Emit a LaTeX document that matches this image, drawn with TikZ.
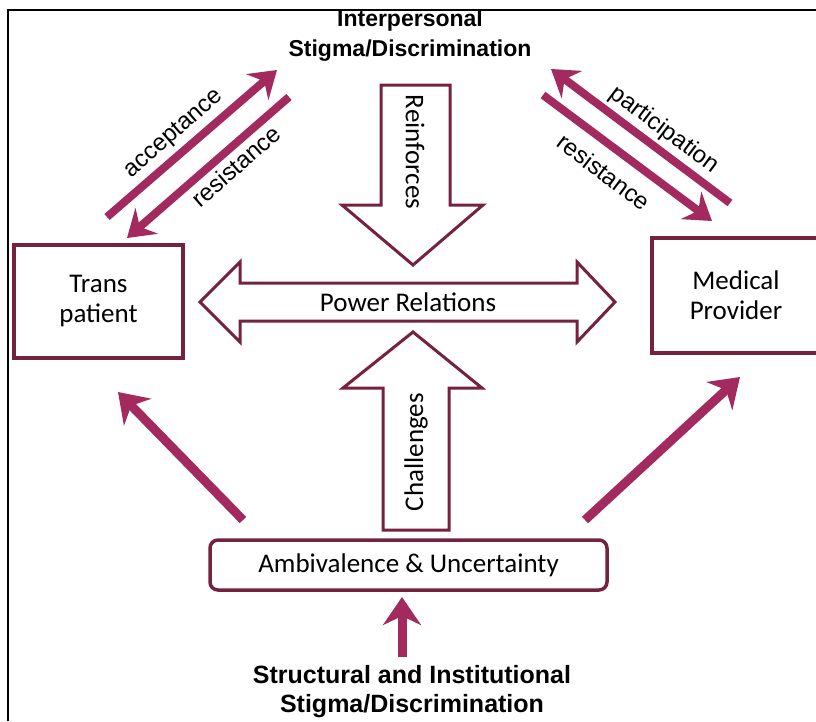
\documentclass[tikz,border=0pt]{standalone}
\usepackage{fontspec}
\setmainfont{Carlito}
\newfontfamily\arialfont{Liberation Sans}
\usetikzlibrary{arrows.meta}
\definecolor{boxred}{RGB}{116,34,64}
\definecolor{arrred}{RGB}{163,42,94}

\begin{document}
\begin{tikzpicture}[x=1pt,y=-1pt,line join=miter,
  box/.style={draw=boxred,line width=3.5pt,fill=white,align=center,font=\fontsize{27}{30}\selectfont},
  hollow/.style={draw=boxred,line width=3pt,fill=white},
  inner/.style={font=\fontsize{27}{30}\selectfont},
  bigarrow/.style={draw=arrred,line width=9pt,-{Stealth[length=28pt,width=38pt,inset=9pt]}},
  pairarrow/.style={draw=arrred,line width=8pt,-{Stealth[length=26pt,width=34pt,inset=9pt]}},
  title/.style={font=\arialfont\bfseries\fontsize{23}{30}\selectfont,align=center},
  side/.style={font=\arialfont\fontsize{24}{26}\selectfont,inner sep=1pt}]

\useasboundingbox (0,0) rectangle (816,721);
\fill[white] (0,0) rectangle (816,721);

% outer frame
\draw[line width=2.5pt] (8,721) -- (8,10) -- (816,10);

% headings
\node[title] (inter) at (410,36) {Interpersonal\\Stigma/Discrimination};
\node[title,font=\arialfont\bfseries\fontsize{25}{29}\selectfont] (struct) at (412,692) {Structural and Institutional\\Stigma/Discrimination};

% boxes
\node[box,minimum width=169pt,minimum height=113pt] (trans) at (98.5,301.5) {Trans\\patient};
\node[box,minimum width=168pt,minimum height=115pt] (medic) at (736,295.5) {Medical\\Provider};
\node[box,rounded corners=8pt,minimum width=397pt,minimum height=50pt] (ambi) at (408.5,565) {Ambivalence \& Uncertainty};

% hollow arrows
\draw[hollow] (200,302) -- (240,262) -- (240,283) -- (577,283) -- (577,262) -- (615,302)
  -- (577,342) -- (577,321) -- (240,321) -- (240,342) -- cycle;
\node[inner] (power) at (408,302) {Power Relations};

\draw[hollow] (381,85) -- (450,85) -- (450,205) -- (483,205) -- (413,265) -- (342,205) -- (381,205) -- cycle;
\node[inner,rotate=-90] (reinf) at (415,152) {Reinforces};

\draw[hollow] (383,530) -- (383,388) -- (343,388) -- (413,332) -- (482,388) -- (449,388) -- (449,530) -- cycle;
\node[inner,rotate=90] (chall) at (416,452) {Challenges};

% solid arrows
\coordinate (accS) at (107,217); \coordinate (accE) at (277,70);
\coordinate (resS) at (289,97);  \coordinate (resE) at (127,238);
\coordinate (parS) at (730,203); \coordinate (parE) at (551,69);
\coordinate (rsiS) at (543,95);  \coordinate (rsiE) at (712,221);
\coordinate (ltS) at (243,520);  \coordinate (ltE) at (118,392);
\coordinate (rtS) at (585,520);  \coordinate (rtE) at (740,377);
\coordinate (upS) at (402,657);  \coordinate (upE) at (402,597);

\draw[pairarrow] (accS) -- (accE);
\draw[pairarrow] (resS) -- (resE);
\draw[pairarrow] (parS) -- (parE);
\draw[pairarrow] (rsiS) -- (rsiE);
\draw[bigarrow] (ltS) -- (ltE);
\draw[bigarrow] (rtS) -- (rtE);
\draw[bigarrow] (upS) -- (upE);

\node[side,rotate=41] (acc) at (174,134) {acceptance};
\node[side,rotate=41] (res) at (236,166) {resistance};
\node[side,rotate=-37] (par) at (664,130) {participation};
\node[side,rotate=-37] (rsi) at (604,172) {resistance};
\end{tikzpicture}
\end{document}
